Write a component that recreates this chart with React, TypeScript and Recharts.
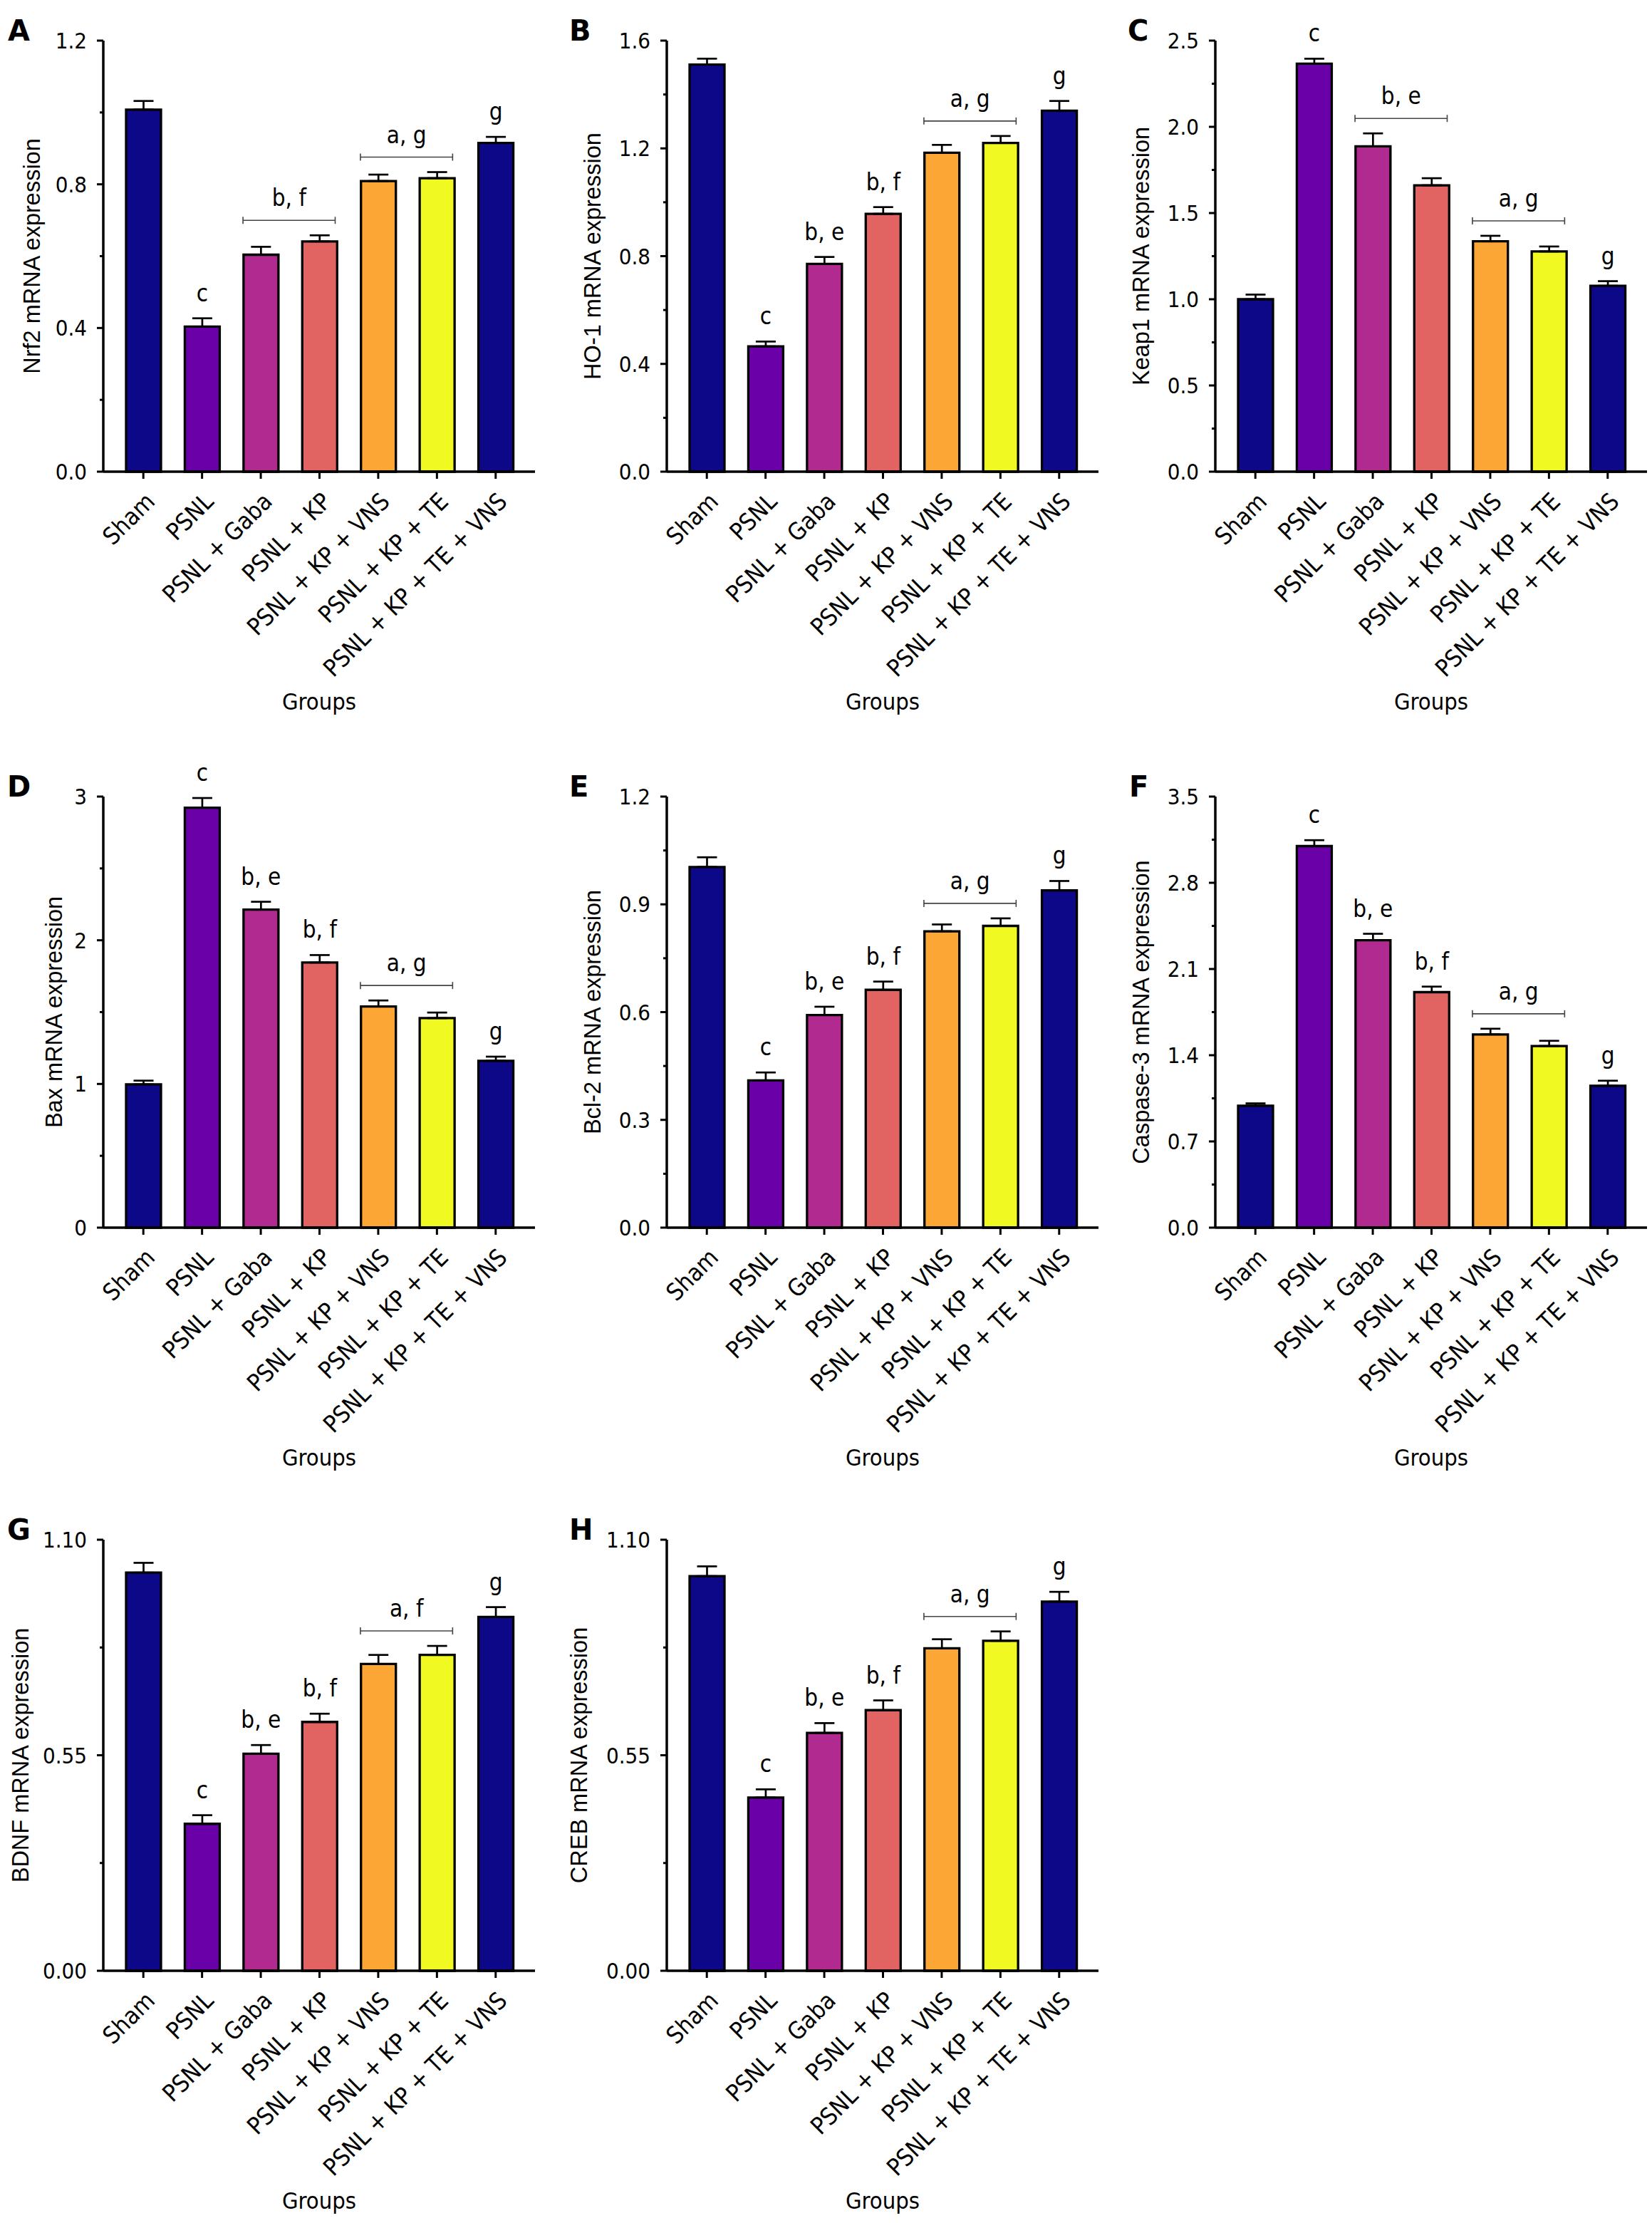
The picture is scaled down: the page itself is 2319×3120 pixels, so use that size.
import React from 'react';
import { Bar, BarChart, Cell, ErrorBar, LabelList, ReferenceLine, XAxis, YAxis } from 'recharts';

const groups = [
  'Sham',
  'PSNL',
  'PSNL + Gaba',
  'PSNL + KP',
  'PSNL + KP + VNS',
  'PSNL + KP + TE',
  'PSNL + KP + TE + VNS',
];
const barColors = ['#0d0887', '#6a00a8', '#b12a90', '#e16462', '#fca636', '#f0f921', '#0d0887'];

// A - Nrf2
const nrf2Mean = [1.008, 0.404, 0.604, 0.641, 0.809, 0.817, 0.915];
const nrf2Sem = [0.024, 0.023, 0.022, 0.017, 0.018, 0.017, 0.017];
const nrf2Ticks = ['0.0', '0.4', '0.8', '1.2'];
const nrf2Minor = [0.2, 0.6, 1.0];
const nrf2Notes = ['', 'c', '', '', '', '', 'g'];
const nrf2Brackets: [number, number, string][] = [[2, 3, 'b, f'], [4, 5, 'a, g']];

// B - HO-1
const ho1Mean = [1.511, 0.465, 0.771, 0.957, 1.184, 1.22, 1.34];
const ho1Sem = [0.022, 0.018, 0.026, 0.025, 0.029, 0.026, 0.036];
const ho1Ticks = ['0.0', '0.4', '0.8', '1.2', '1.6'];
const ho1Minor = [0.2, 0.6, 1.0, 1.4];
const ho1Notes = ['', 'c', 'b, e', 'b, f', '', '', 'g'];
const ho1Brackets: [number, number, string][] = [[4, 5, 'a, g']];

// C - Keap1
const keap1Mean = [1.0, 2.366, 1.887, 1.661, 1.336, 1.277, 1.078];
const keap1Sem = [0.027, 0.029, 0.075, 0.041, 0.032, 0.029, 0.027];
const keap1Ticks = ['0.0', '0.5', '1.0', '1.5', '2.0', '2.5'];
const keap1Minor = [0.25, 0.75, 1.25, 1.75, 2.25];
const keap1Notes = ['', 'c', '', '', '', '', 'g'];
const keap1Brackets: [number, number, string][] = [[2, 3, 'b, e'], [4, 5, 'a, g']];

// D - Bax
const baxMean = [0.997, 2.923, 2.213, 1.845, 1.539, 1.458, 1.161];
const baxSem = [0.026, 0.067, 0.055, 0.052, 0.042, 0.039, 0.029];
const baxTicks = ['0', '1', '2', '3'];
const baxMinor = [0.5, 1.5, 2.5];
const baxNotes = ['', 'c', 'b, e', 'b, f', '', '', 'g'];
const baxBrackets: [number, number, string][] = [[4, 5, 'a, g']];

// E - Bcl-2
const bcl2Mean = [1.004, 0.41, 0.592, 0.662, 0.825, 0.84, 0.939];
const bcl2Sem = [0.027, 0.022, 0.023, 0.023, 0.019, 0.021, 0.026];
const bcl2Ticks = ['0.0', '0.3', '0.6', '0.9', '1.2'];
const bcl2Minor = [0.15, 0.45, 0.75, 1.05];
const bcl2Notes = ['', 'c', 'b, e', 'b, f', '', '', 'g'];
const bcl2Brackets: [number, number, string][] = [[4, 5, 'a, g']];

// F - Caspase-3
const casp3Mean = [0.99, 3.098, 2.334, 1.912, 1.569, 1.475, 1.152];
const casp3Sem = [0.019, 0.048, 0.052, 0.045, 0.046, 0.042, 0.041];
const casp3Ticks = ['0.0', '0.7', '1.4', '2.1', '2.8', '3.5'];
const casp3Minor = [0.35, 1.05, 1.75, 2.45, 3.15];
const casp3Notes = ['', 'c', 'b, e', 'b, f', '', '', 'g'];
const casp3Brackets: [number, number, string][] = [[4, 5, 'a, g']];

// G - BDNF
const bdnfMean = [1.016, 0.375, 0.554, 0.635, 0.783, 0.806, 0.903];
const bdnfSem = [0.025, 0.022, 0.022, 0.021, 0.023, 0.023, 0.025];
const bdnfTicks = ['0.00', '0.55', '1.10'];
const bdnfMinor = [0.275, 0.825];
const bdnfNotes = ['', 'c', 'b, e', 'b, f', '', '', 'g'];
const bdnfBrackets: [number, number, string][] = [[4, 5, 'a, f']];

// H - CREB
const crebMean = [1.007, 0.442, 0.607, 0.665, 0.823, 0.842, 0.942];
const crebSem = [0.025, 0.021, 0.025, 0.025, 0.023, 0.024, 0.025];
const crebTicks = ['0.00', '0.55', '1.10'];
const crebMinor = [0.275, 0.825];
const crebNotes = ['', 'c', 'b, e', 'b, f', '', '', 'g'];
const crebBrackets: [number, number, string][] = [[4, 5, 'a, g']];

const AXIS_W = 145;
const PLOT_W = 606;
const PLOT_H = 605;
const TOP = 57;
const RIGHT = 6;
const XAXIS_H = 350;
const CHART_W = AXIS_W + PLOT_W + RIGHT;
const CHART_H = TOP + PLOT_H + XAXIS_H;

const FONT = '"DejaVu Sans Condensed", "DejaVu Sans", sans-serif';
const LABEL_FONT = '"Liberation Sans", Arial, sans-serif';
const TICK_SIZE = 31;
const CAT_SIZE = 33.5;
const NOTE_SIZE = 33;

function YTick(props: any) {
  const { x, y, payload, labels } = props;
  const idx = labels.map(Number).indexOf(payload.value);
  const major = idx >= 0;
  const len = major ? 9 : 5;
  return (
    <g>
      <line x1={x - len} x2={x} y1={y} y2={y} stroke="#000" strokeWidth={3} />
      {major && (
        <text x={x - 23} y={y + 11} textAnchor="end" fontSize={TICK_SIZE} fontFamily={FONT} fill="#000">
          {labels[idx]}
        </text>
      )}
    </g>
  );
}

function XTick(props: any) {
  const { x, y, payload } = props;
  const ax = x + 18;
  const ay = y + 44;
  return (
    <g>
      <line x1={x} x2={x} y1={y} y2={y + 10} stroke="#000" strokeWidth={3} />
      <text
        x={ax}
        y={ay}
        textAnchor="end"
        transform={`rotate(-45 ${ax} ${ay})`}
        fontSize={CAT_SIZE}
        fontFamily={FONT}
        fill="#000"
      >
        {payload.value}
      </text>
    </g>
  );
}

function Bracket(props: any) {
  const { x1, x2, y1, text } = props;
  const left = x1 - 25;
  const right = x2 + 22;
  return (
    <g>
      <line x1={left} x2={right} y1={y1} y2={y1} stroke="#444" strokeWidth={1.6} />
      <line x1={left} x2={left} y1={y1 - 5} y2={y1 + 5} stroke="#444" strokeWidth={1.6} />
      <line x1={right} x2={right} y1={y1 - 5} y2={y1 + 5} stroke="#444" strokeWidth={1.6} />
      <text x={(left + right) / 2} y={y1 - 20} textAnchor="middle" fontSize={NOTE_SIZE} fontFamily={FONT} fill="#000">
        {text}
      </text>
    </g>
  );
}

type PanelProps = {
  letter: string;
  letterX: number;
  yLabel: string;
  yLabelOffset: number;
  means: number[];
  sems: number[];
  ticks: string[];
  minor: number[];
  notes: string[];
  brackets: [number, number, string][];
  left: number;
  top: number;
};

function Panel(p: PanelProps) {
  const max = Number(p.ticks[p.ticks.length - 1]);
  const data = groups.map((group, i) => ({
    group,
    mean: p.means[i],
    err: [0, p.sems[i]],
    note: p.notes[i],
  }));
  const tickValues = [...p.ticks.map(Number), ...p.minor].sort((a, b) => a - b);
  const unitPerPx = max / PLOT_H;
  const labelX = AXIS_W + p.yLabelOffset;
  const labelY = TOP + PLOT_H / 2;

  const sideLabel = () => (
    <g>
      <text x={p.letterX} y={TOP} fontSize={40} fontWeight="bold" fontFamily='"DejaVu Sans", sans-serif' fill="#000">
        {p.letter}
      </text>
      <text
        x={labelX}
        y={labelY}
        textAnchor="middle"
        transform={`rotate(-90 ${labelX} ${labelY})`}
        fontSize={32.5}
        fontFamily={LABEL_FONT}
        fill="#000"
      >
        {p.yLabel}
      </text>
    </g>
  );

  const groupsLabel = () => (
    <text x={AXIS_W + PLOT_W / 2} y={TOP + PLOT_H + 334} textAnchor="middle" fontSize={32.5} fontFamily={FONT} fill="#000">
      Groups
    </text>
  );

  const noteLabel = (lp: any) => {
    const i = lp.index;
    const note = p.notes[i];
    if (!note) return null;
    const vb = lp.viewBox || lp;
    const bx = Number(vb.x ?? lp.x);
    const bw = Number(vb.width ?? lp.width);
    const errTop = TOP + PLOT_H * (1 - (p.means[i] + p.sems[i]) / max);
    return (
      <text x={bx + bw / 2} y={errTop - 24} textAnchor="middle" fontSize={NOTE_SIZE} fontFamily={FONT} fill="#000">
        {note}
      </text>
    );
  };

  return (
    <div style={{ position: 'absolute', left: p.left, top: p.top }}>
      <BarChart
        width={CHART_W}
        height={CHART_H}
        data={data}
        margin={{ top: TOP, right: RIGHT, bottom: 0, left: 0 }}
        barSize={49}
      >
        <XAxis
          dataKey="group"
          type="category"
          height={XAXIS_H}
          padding={{ left: 15, right: 14 }}
          axisLine={{ stroke: '#000', strokeWidth: 3.5 }}
          tickLine={false}
          tickSize={0}
          tickMargin={0}
          interval={0}
          tick={(t: any) => <XTick {...t} />}
          label={groupsLabel}
        />
        <YAxis
          type="number"
          domain={[0, max]}
          ticks={tickValues}
          width={AXIS_W}
          axisLine={{ stroke: '#000', strokeWidth: 3.5 }}
          tickLine={false}
          tickSize={0}
          tickMargin={0}
          interval={0}
          tick={(t: any) => <YTick {...t} labels={p.ticks} />}
          label={sideLabel}
        />
        <Bar dataKey="mean" isAnimationActive={false} stroke="#000" strokeWidth={3.3}>
          {data.map((d, i) => (
            <Cell key={d.group} fill={barColors[i]} />
          ))}
          <ErrorBar dataKey="err" width={14} stroke="#000" strokeWidth={2.7} isAnimationActive={false} />
          <LabelList dataKey="note" content={noteLabel} />
        </Bar>
        {p.brackets.map(([a, b, text]) => {
          const topVal = Math.max(p.means[a] + p.sems[a], p.means[b] + p.sems[b]);
          const yv = topVal + 21 * unitPerPx;
          return (
            <ReferenceLine
              key={text + a}
              segment={[
                { x: groups[a], y: yv },
                { x: groups[b], y: yv },
              ]}
              ifOverflow="visible"
              shape={(s: any) => <Bracket {...s} text={text} />}
            />
          );
        })}
      </BarChart>
    </div>
  );
}

const COLS = [0, 791, 1561];
const ROWS = [0, 1061, 2104];

export default function App() {
  return (
    <div style={{ position: 'absolute', left: 0, top: 0, width: 2319, height: 3120, background: '#fff' }}>
      <Panel letter="A" letterX={11} yLabel="Nrf2 mRNA expression" yLabelOffset={-89} means={nrf2Mean} sems={nrf2Sem}
        ticks={nrf2Ticks} minor={nrf2Minor} notes={nrf2Notes} brackets={nrf2Brackets} left={COLS[0]} top={ROWS[0]} />
      <Panel letter="B" letterX={8} yLabel="HO-1 mRNA expression" yLabelOffset={-93} means={ho1Mean} sems={ho1Sem}
        ticks={ho1Ticks} minor={ho1Minor} notes={ho1Notes} brackets={ho1Brackets} left={COLS[1]} top={ROWS[0]} />
      <Panel letter="C" letterX={22} yLabel="Keap1 mRNA expression" yLabelOffset={-93} means={keap1Mean} sems={keap1Sem}
        ticks={keap1Ticks} minor={keap1Minor} notes={keap1Notes} brackets={keap1Brackets} left={COLS[2]} top={ROWS[0]} />
      <Panel letter="D" letterX={10} yLabel="Bax mRNA expression" yLabelOffset={-58} means={baxMean} sems={baxSem}
        ticks={baxTicks} minor={baxMinor} notes={baxNotes} brackets={baxBrackets} left={COLS[0]} top={ROWS[1]} />
      <Panel letter="E" letterX={8} yLabel="Bcl-2 mRNA expression" yLabelOffset={-93} means={bcl2Mean} sems={bcl2Sem}
        ticks={bcl2Ticks} minor={bcl2Minor} notes={bcl2Notes} brackets={bcl2Brackets} left={COLS[1]} top={ROWS[1]} />
      <Panel letter="F" letterX={24} yLabel="Caspase-3 mRNA expression" yLabelOffset={-93} means={casp3Mean} sems={casp3Sem}
        ticks={casp3Ticks} minor={casp3Minor} notes={casp3Notes} brackets={casp3Brackets} left={COLS[2]} top={ROWS[1]} />
      <Panel letter="G" letterX={10} yLabel="BDNF mRNA expression" yLabelOffset={-105} means={bdnfMean} sems={bdnfSem}
        ticks={bdnfTicks} minor={bdnfMinor} notes={bdnfNotes} brackets={bdnfBrackets} left={COLS[0]} top={ROWS[2]} />
      <Panel letter="H" letterX={8} yLabel="CREB mRNA expression" yLabelOffset={-112} means={crebMean} sems={crebSem}
        ticks={crebTicks} minor={crebMinor} notes={crebNotes} brackets={crebBrackets} left={COLS[1]} top={ROWS[2]} />
    </div>
  );
}
